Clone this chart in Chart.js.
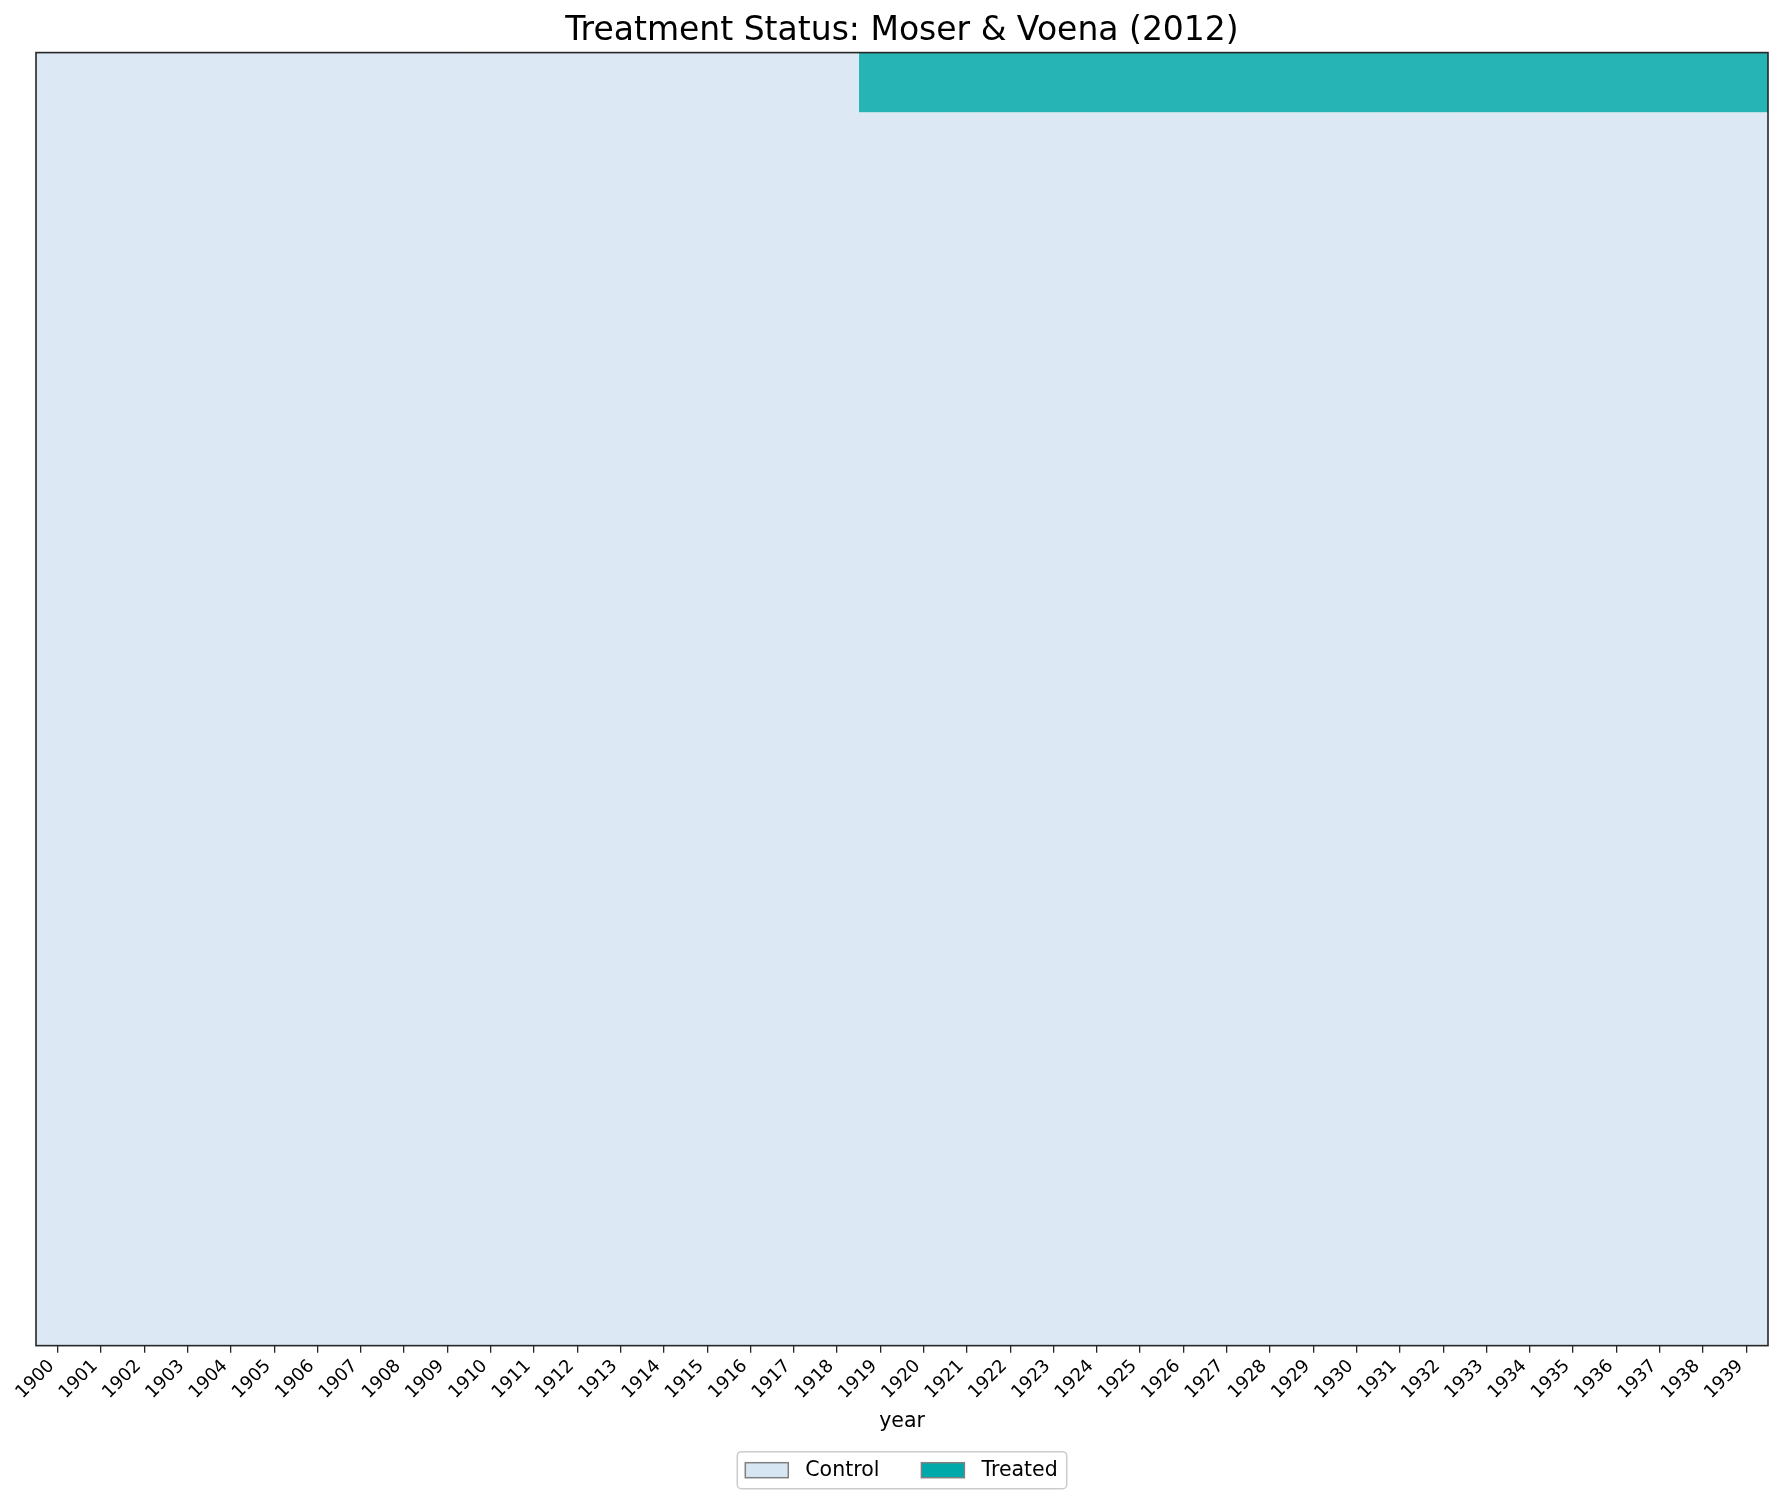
<!DOCTYPE html>
<html>
<head>
<meta charset="utf-8">
<script src="https://cdn.jsdelivr.net/npm/chart.js@4.4.1/dist/chart.umd.min.js"></script>
<style>
  html, body { margin: 0; padding: 0; background: #ffffff; }
  #wrap { width: 1782px; height: 1503px; }
</style>
</head>
<body>
<div id="wrap"><canvas id="c" width="1782" height="1503"></canvas></div>
<script>
// ---- data ----
const years = ['1900','1901','1902','1903','1904','1905','1906','1907','1908','1909',
               '1910','1911','1912','1913','1914','1915','1916','1917','1918','1919',
               '1920','1921','1922','1923','1924','1925','1926','1927','1928','1929',
               '1930','1931','1932','1933','1934','1935','1936','1937','1938','1939'];
const totalSubclasses = 7248;
// number of subclasses under treatment in each year
const treatedSubclasses = [0,0,0,0,0,0,0,0,0,0,
                           0,0,0,0,0,0,0,0,0,336,
                           336,336,336,336,336,336,336,336,336,336,
                           336,336,336,336,336,336,336,336,336,336];
const seriesNames = ['Control', 'Treated'];

// ---- styles ----
const FONT = "'DejaVu Sans', 'Liberation Sans', sans-serif";
const cellColors = ['#dce9f4', '#26b4b4'];
const legendColors = ['#d6e6f2', '#00a9a9'];

const controlRanges = years.map((y, i) => [treatedSubclasses[i], totalSubclasses]);
const treatedRanges = years.map((y, i) => [0, treatedSubclasses[i]]);

const framePlugin = {
  id: 'frame',
  afterDatasetsDraw(chart) {
    const a = chart.chartArea, ctx = chart.ctx;
    ctx.save();
    ctx.strokeStyle = '#262626';
    ctx.lineWidth = 1.6;
    ctx.strokeRect(a.left, a.top, a.right - a.left, a.bottom - a.top);
    ctx.restore();
  }
};

const boxedLegend = {
  id: 'boxedLegend',
  afterDraw(chart) {
    const ctx = chart.ctx, a = chart.chartArea;
    const fontSize = 20.5;
    ctx.save();
    ctx.font = fontSize + 'px ' + FONT;
    const patchW = 43, patchH = 15, gapText = 17, gapItem = 42, padL = 8, padR = 9;
    const items = chart.data.datasets.map((d, i) => ({ label: d.label, color: legendColors[i], w: ctx.measureText(d.label).width }));
    let inner = 0;
    items.forEach((it, i) => { inner += patchW + gapText + it.w + (i < items.length - 1 ? gapItem : 0); });
    const boxW = padL + inner + padR, boxH = 37;
    const cx = (a.left + a.right) / 2;
    const bx = cx - boxW / 2, by = chart.height - 51.3;
    ctx.strokeStyle = '#cccccc';
    ctx.lineWidth = 1.5;
    ctx.beginPath();
    ctx.roundRect(bx, by, boxW, boxH, 4);
    ctx.fillStyle = 'rgba(255,255,255,0.8)';
    ctx.fill();
    ctx.stroke();
    const cy = by + boxH / 2;
    let x = bx + padL;
    items.forEach(it => {
      ctx.fillStyle = it.color;
      ctx.fillRect(x, cy - patchH / 2, patchW, patchH);
      ctx.strokeStyle = '#808080';
      ctx.lineWidth = 1.5;
      ctx.strokeRect(x, cy - patchH / 2, patchW, patchH);
      x += patchW + gapText;
      ctx.fillStyle = '#000000';
      ctx.textBaseline = 'middle';
      ctx.textAlign = 'left';
      ctx.fillText(it.label, x, cy);
      x += it.w + gapItem;
    });
    ctx.restore();
  }
};

const bgPlugin = {
  id: 'areaBg',
  beforeDatasetsDraw(chart) {
    const a = chart.chartArea, ctx = chart.ctx;
    ctx.save();
    ctx.fillStyle = cellColors[0];
    ctx.fillRect(a.left, a.top, a.right - a.left, a.bottom - a.top);
    ctx.restore();
  }
};

new Chart(document.getElementById('c'), {
  type: 'bar',
  data: {
    labels: years,
    datasets: [
      { label: seriesNames[0], data: controlRanges, backgroundColor: cellColors[0] },
      { label: seriesNames[1], data: treatedRanges, backgroundColor: cellColors[1] }
    ]
  },
  options: {
    responsive: false,
    maintainAspectRatio: false,
    devicePixelRatio: 1,
    animation: false,
    layout: { padding: { left: 36, right: 14, top: 0, bottom: 57.5 } },
    datasets: {
      bar: { barPercentage: 1, categoryPercentage: 1, grouped: false, borderWidth: 0, borderSkipped: false }
    },
    plugins: {
      legend: { display: false },
      tooltip: { enabled: false },
      title: {
        display: true,
        text: 'Treatment Status: Moser & Voena (2012)',
        color: '#000000',
        font: { family: FONT, size: 33, weight: 'normal' },
        padding: { top: 12, bottom: 1 }
      }
    },
    scales: {
      x: {
        type: 'category',
        offset: true,
        border: { display: false },
        grid: { display: true, drawOnChartArea: false, drawTicks: true, tickLength: 7, offset: false, color: '#262626', lineWidth: 1.3 },
        ticks: {
          autoSkip: false, minRotation: 45, maxRotation: 45, padding: 3, labelOffset: -6,
          color: '#000000', font: { family: FONT, size: 18 }
        },
        title: {
          display: true, text: 'year', color: '#000000',
          font: { family: FONT, size: 20.5 },
          padding: { top: 2.6, bottom: 12 }
        }
      },
      y: {
        type: 'linear',
        display: false,
        reverse: true,
        min: 0,
        max: totalSubclasses
      }
    }
  },
  plugins: [bgPlugin, framePlugin, boxedLegend]
});
</script>
</body>
</html>
